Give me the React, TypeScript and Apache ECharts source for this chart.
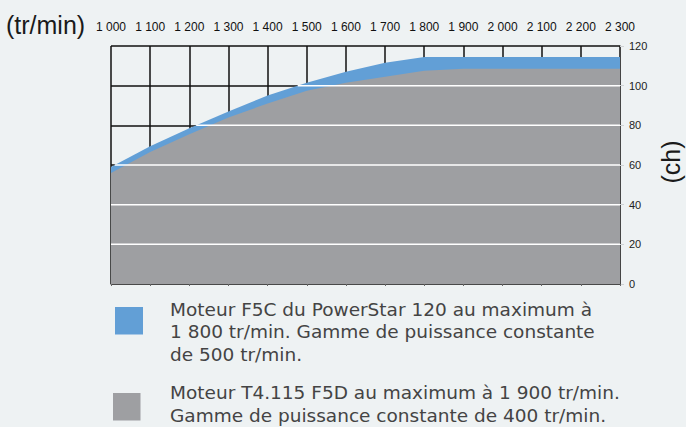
import React, { useEffect, useRef } from "react";
import * as echarts from "echarts";

const rpm = [1000, 1100, 1200, 1300, 1400, 1500, 1600, 1700, 1800, 1900, 2000, 2100, 2200, 2300];
const rpmLabels = ["1 000", "1 100", "1 200", "1 300", "1 400", "1 500", "1 600", "1 700", "1 800", "1 900", "2 000", "2 100", "2 200", "2 300"];
const powerF5C = [59, 69.5, 78.5, 87, 95, 101.5, 107, 111.5, 114.5, 114.5, 114.5, 114.5, 114.5, 114.5];
const powerF5D = [56, 66.5, 75.5, 84, 91, 97.5, 101.5, 104.5, 107.5, 108.5, 108.5, 108.5, 108.5, 108.5];
const powerTicks = [0, 20, 40, 60, 80, 100, 120];
const legendF5C = [
  "Moteur F5C du PowerStar 120 au maximum à",
  "1 800 tr/min. Gamme de puissance constante",
  "de 500 tr/min.",
];
const legendF5D = [
  "Moteur T4.115 F5D au maximum à 1 900 tr/min.",
  "Gamme de puissance constante de 400 tr/min.",
];

const BLUE = "#629fd6";
const GRAY = "#9e9fa2";
const BG = "#eef2f3";

function crossing(level: number): number {
  for (let i = 0; i < rpm.length; i++) {
    if (powerF5C[i] >= level) {
      if (i === 0) return rpm[0];
      const t = (level - powerF5C[i - 1]) / (powerF5C[i] - powerF5C[i - 1]);
      return rpm[i - 1] + t * (rpm[i] - rpm[i - 1]);
    }
  }
  return rpm[rpm.length - 1];
}

export default function App() {
  const ref = useRef<HTMLDivElement>(null);
  useEffect(() => {
    if (!ref.current) return;
    const chart = echarts.init(ref.current, null, { renderer: "svg" });
    const levels = powerTicks.filter((v) => v > 0 && v < 120);
    const whiteLines = levels.map((v) => ({
      type: "line",
      xAxisIndex: 0,
      yAxisIndex: 0,
      data: [
        [crossing(v), v],
        [rpm[rpm.length - 1], v],
      ],
      symbol: "none",
      silent: true,
      lineStyle: { color: "#ffffff", width: 1.5 },
      z: 5,
    }));
    const legendFont = "18.5px 'DejaVu Sans', sans-serif";
    chart.setOption({
      animation: false,
      backgroundColor: BG,
      grid: [{ left: 111, right: 66, top: 46, bottom: 143 }],
      xAxis: [
        {
          type: "value",
          gridIndex: 0,
          min: 1000,
          max: 2300,
          interval: 100,
          position: "bottom",
          axisLine: { show: true, lineStyle: { color: "#4a4a4a", width: 1.5 } },
          axisTick: { show: true, inside: false, length: 2, lineStyle: { color: "#666" } },
          axisLabel: { show: false },
          splitLine: { show: true, lineStyle: { color: "#111", width: 1.5 } },
        },
        {
          type: "value",
          gridIndex: 0,
          min: 1000,
          max: 2300,
          interval: 100,
          position: "top",
          axisLine: { show: false },
          axisTick: { show: false },
          splitLine: { show: false },
          axisLabel: {
            formatter: (v: number) => rpmLabels[rpm.indexOf(v)] ?? "",
            fontSize: 12,
            fontFamily: "Arial, 'Liberation Sans', sans-serif",
            color: "#111",
            margin: 13.5,
          },
        },
      ],
      yAxis: [
        {
          type: "value",
          gridIndex: 0,
          min: 0,
          max: 120,
          interval: 20,
          position: "right",
          axisLine: { show: true, lineStyle: { color: "#444", width: 1 } },
          axisTick: { show: true, length: 4, lineStyle: { color: "#cfd2d4" } },
          axisLabel: {
            margin: 9,
            fontSize: 11,
            fontFamily: "Arial, 'Liberation Sans', sans-serif",
            color: "#222",
          },
          splitLine: { show: true, lineStyle: { color: "#111", width: 1.5 } },
        },
      ],
      series: [
        {
          type: "line",
          name: "F5C",
          data: rpm.map((r, i) => [r, powerF5C[i]]),
          symbol: "none",
          lineStyle: { width: 0 },
          areaStyle: { color: BLUE, opacity: 1 },
          z: 2,
        },
        {
          type: "line",
          name: "F5D",
          data: rpm.map((r, i) => [r, powerF5D[i]]),
          symbol: "none",
          lineStyle: { width: 0 },
          areaStyle: { color: GRAY, opacity: 1 },
          z: 3,
        },
        ...whiteLines,
      ],
      graphic: [
        {
          type: "text",
          left: 6,
          top: 12,
          style: {
            text: "(tr/min)",
            font: "25px Arial, 'Liberation Sans', sans-serif",
            fill: "#1a1a1a",
          },
        },
        {
          type: "text",
          x: 671,
          y: 162,
          rotation: Math.PI / 2,
          style: {
            text: "(ch)",
            font: "25px Arial, 'Liberation Sans', sans-serif",
            fill: "#1a1a1a",
            align: "center",
            verticalAlign: "middle",
          },
        },
        {
          type: "rect",
          shape: { x: 115, y: 307, width: 28, height: 27.5 },
          style: { fill: BLUE },
        },
        {
          type: "text",
          left: 170,
          top: 298,
          style: {
            text: legendF5C.join("\n"),
            font: legendFont,
            lineHeight: 22.5,
            fill: "#444",
          },
        },
        {
          type: "rect",
          shape: { x: 113, y: 393, width: 27.5, height: 27.5 },
          style: { fill: GRAY },
        },
        {
          type: "text",
          left: 170,
          top: 381.5,
          style: {
            text: legendF5D.join("\n"),
            font: legendFont,
            lineHeight: 22.5,
            fill: "#444",
          },
        },
      ],
    });
    return () => chart.dispose();
  }, []);
  return (
    <div
      ref={ref}
      style={{ position: "absolute", left: 0, top: 0, width: 686, height: 427, background: BG }}
    />
  );
}
